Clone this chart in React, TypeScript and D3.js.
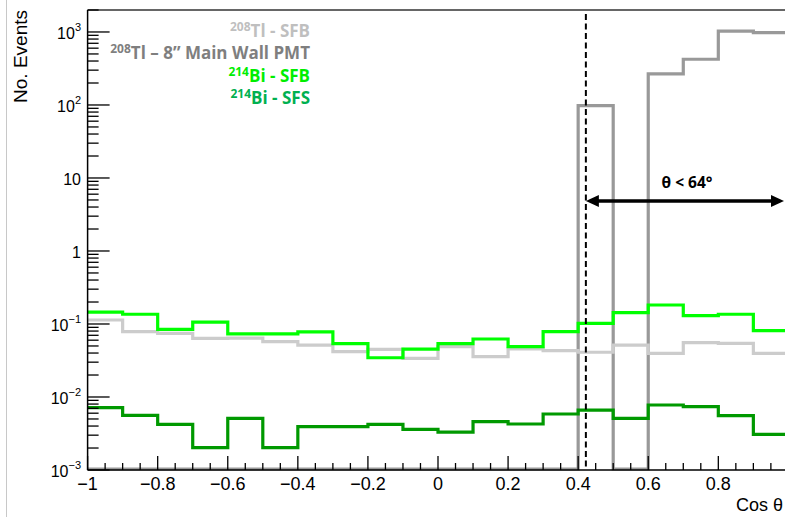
import React from "react";
import * as d3 from "d3";

// Bin lower edges (Cos θ), bin width 0.1
const binLow = [-1, -0.9, -0.8, -0.7, -0.6, -0.5, -0.4, -0.3, -0.2, -0.1, 0, 0.1, 0.2, 0.3, 0.4, 0.5, 0.6, 0.7, 0.8, 0.9];
const binWidth = 0.1;

// 208Tl - 8" Main Wall PMT (dark gray)
const tlPMT = [0, 0, 0, 0, 0, 0, 0, 0, 0, 0, 0, 0, 0, 0, 98, 0, 266, 423, 1030, 978];
// 208Tl - SFB (light gray)
const tlSFB = [0.1135, 0.0785, 0.0745, 0.0637, 0.064, 0.0572, 0.0515, 0.0418, 0.045, 0.0339, 0.049, 0.0357, 0.0455, 0.0431, 0.041, 0.0515, 0.0397, 0.0554, 0.0543, 0.0397];
// 214Bi - SFB (bright green)
const biSFB = [0.145, 0.136, 0.0846, 0.106, 0.073, 0.073, 0.078, 0.054, 0.0345, 0.0454, 0.054, 0.0623, 0.049, 0.0785, 0.102, 0.143, 0.182, 0.13, 0.136, 0.081];
// 214Bi - SFS (dark green)
const biSFS = [0.00713, 0.00561, 0.00423, 0.00202, 0.0051, 0.00202, 0.00392, 0.00392, 0.00423, 0.0036, 0.00331, 0.00459, 0.00427, 0.00585, 0.00663, 0.0051, 0.00777, 0.00736, 0.00554, 0.00308];

const xTicksMajor = [-1, -0.8, -0.6, -0.4, -0.2, 0, 0.2, 0.4, 0.6, 0.8];
const xTickLabels = ["−1", "−0.8", "−0.6", "−0.4", "−0.2", "0", "0.2", "0.4", "0.6", "0.8"];
const yDecades = [1e-3, 1e-2, 1e-1, 1, 10, 100, 1000];
const yBase = ["10", "10", "10", "1", "10", "10", "10"];
const yExp = ["−3", "−2", "−1", "", "", "2", "3"];

const cutCos = 0.422;

const W = 785;
const H = 517;
const left = 87.6;
const right = 788.4;
const top = 10;
const bottom = 470;

export default function App() {
  const x = d3.scaleLinear().domain([-1, 1]).range([left, right]);
  const y = d3.scaleLog().domain([1e-3, 2000]).range([bottom, top]);
  const yv = (v: number) => (v > 0 ? y(v) : bottom - 1);

  const histPath = (vals: number[]) => {
    const pts: [number, number][] = vals.map((v, i) => [x(binLow[i]), yv(v)]);
    pts.push([x(binLow[binLow.length - 1] + binWidth), yv(vals[vals.length - 1])]);
    return d3.line().curve(d3.curveStepAfter)(pts) || "";
  };

  const minorX = d3.range(0, 41).map((i) => -1 + i * 0.05).filter((v) => Math.abs(Math.round(v * 5) - v * 5) > 1e-6);
  const minorY: number[] = [];
  for (let e = -3; e <= 3; e++) {
    for (let k = 2; k <= 9; k++) {
      const v = k * Math.pow(10, e);
      if (v <= 2000) minorY.push(v);
    }
  }

  const axisFont = "'Liberation Sans', Arial, Helvetica, sans-serif";
  const legFont = "'Open Sans', Lato, sans-serif";
  const xc = x(cutCos);
  const arrowY = 201;

  return (
    <svg width={W} height={H} style={{ position: "absolute", left: 0, top: 0, background: "#fff" }}>
      <rect x={0} y={0} width={W} height={H} fill="#fff" />
      <line x1={6.5} x2={6.5} y1={0} y2={H} stroke="#c8c8c8" strokeWidth={1} />

      {/* histograms */}
      <path d={histPath(tlPMT)} fill="none" stroke="#999999" strokeWidth={3.2} />
      <path d={histPath(tlSFB)} fill="none" stroke="#cccccc" strokeWidth={3.2} />
      <path d={histPath(biSFB)} fill="none" stroke="#00ff00" strokeWidth={3.2} />
      <path d={histPath(biSFS)} fill="none" stroke="#009900" strokeWidth={3.2} />

      {/* frame */}
      <line x1={left} x2={W} y1={top} y2={top} stroke="#333" strokeWidth={1.3} />
      <line x1={left} x2={left} y1={top} y2={bottom} stroke="#000" strokeWidth={1.5} />
      <line x1={left} x2={W} y1={bottom} y2={bottom} stroke="#000" strokeWidth={1.5} />

      {/* y ticks */}
      {yDecades.map((v, i) => (
        <line key={"ym" + i} x1={left} x2={left + 22} y1={y(v)} y2={y(v)} stroke="#000" strokeWidth={1.3} />
      ))}
      {minorY.map((v, i) => (
        <line key={"yn" + i} x1={left} x2={left + 11} y1={y(v)} y2={y(v)} stroke="#000" strokeWidth={1.3} />
      ))}
      {yDecades.map((v, i) => (
        <text key={"yl" + i} x={81} y={y(v) + 7} textAnchor="end" fontFamily={axisFont} fontSize={16} fill="#000">
          {yBase[i]}
          {yExp[i] !== "" && (
            <tspan fontSize={11} dy={-8}>
              {yExp[i]}
            </tspan>
          )}
        </text>
      ))}

      {/* x ticks */}
      {xTicksMajor.map((v, i) => (
        <line key={"xm" + i} x1={x(v)} x2={x(v)} y1={bottom} y2={bottom - 14} stroke="#000" strokeWidth={1.3} />
      ))}
      {minorX.map((v, i) => (
        <line key={"xn" + i} x1={x(v)} x2={x(v)} y1={bottom} y2={bottom - 7} stroke="#000" strokeWidth={1.3} />
      ))}
      {xTicksMajor.map((v, i) => (
        <text key={"xl" + i} x={x(v)} y={490} textAnchor="middle" fontFamily={axisFont} fontSize={18} fill="#000">
          {xTickLabels[i]}
        </text>
      ))}

      {/* axis titles */}
      <text x={783} y={511} textAnchor="end" fontFamily={axisFont} fontSize={18} fill="#000">
        Cos θ
      </text>
      <text
        transform={`translate(27, 10) rotate(-90)`}
        textAnchor="end"
        fontFamily={axisFont}
        fontSize={19}
        fill="#000"
      >
        No. Events
      </text>

      {/* cut line */}
      <line x1={xc} x2={xc} y1={14} y2={bottom} stroke="#000" strokeWidth={2} strokeDasharray="6,3.5" />
      <line x1={xc + 8} x2={W - 8} y1={arrowY} y2={arrowY} stroke="#000" strokeWidth={3.3} />
      <polygon points={`${xc},${arrowY} ${xc + 13},${arrowY - 6} ${xc + 13},${arrowY + 6}`} fill="#000" />
      <polygon points={`${W - 1},${arrowY} ${W - 14},${arrowY - 6} ${W - 14},${arrowY + 6}`} fill="#000" />
      <text x={687} y={188} textAnchor="middle" fontFamily={legFont} fontWeight="bold" fontSize={15.5} fill="#000">
        θ &lt; 64°
      </text>

      {/* legend */}
      <g fontFamily={legFont} fontWeight="bold" fontSize={17} textAnchor="end">
        <text x={310} y={37} fill="#bfbfbf">
          <tspan fontSize={12} dy={-6}>208</tspan>
          <tspan dy={6}>Tl - SFB</tspan>
        </text>
        <text x={310} y={59} fill="#7f7f7f">
          <tspan fontSize={12} dy={-6}>208</tspan>
          <tspan dy={6}>Tl – 8” Main Wall PMT</tspan>
        </text>
        <text x={310} y={81.5} fill="#00ee00">
          <tspan fontSize={12} dy={-6}>214</tspan>
          <tspan dy={6}>Bi - SFB</tspan>
        </text>
        <text x={310} y={103.5} fill="#00b050">
          <tspan fontSize={12} dy={-6}>214</tspan>
          <tspan dy={6}>Bi - SFS</tspan>
        </text>
      </g>
    </svg>
  );
}
